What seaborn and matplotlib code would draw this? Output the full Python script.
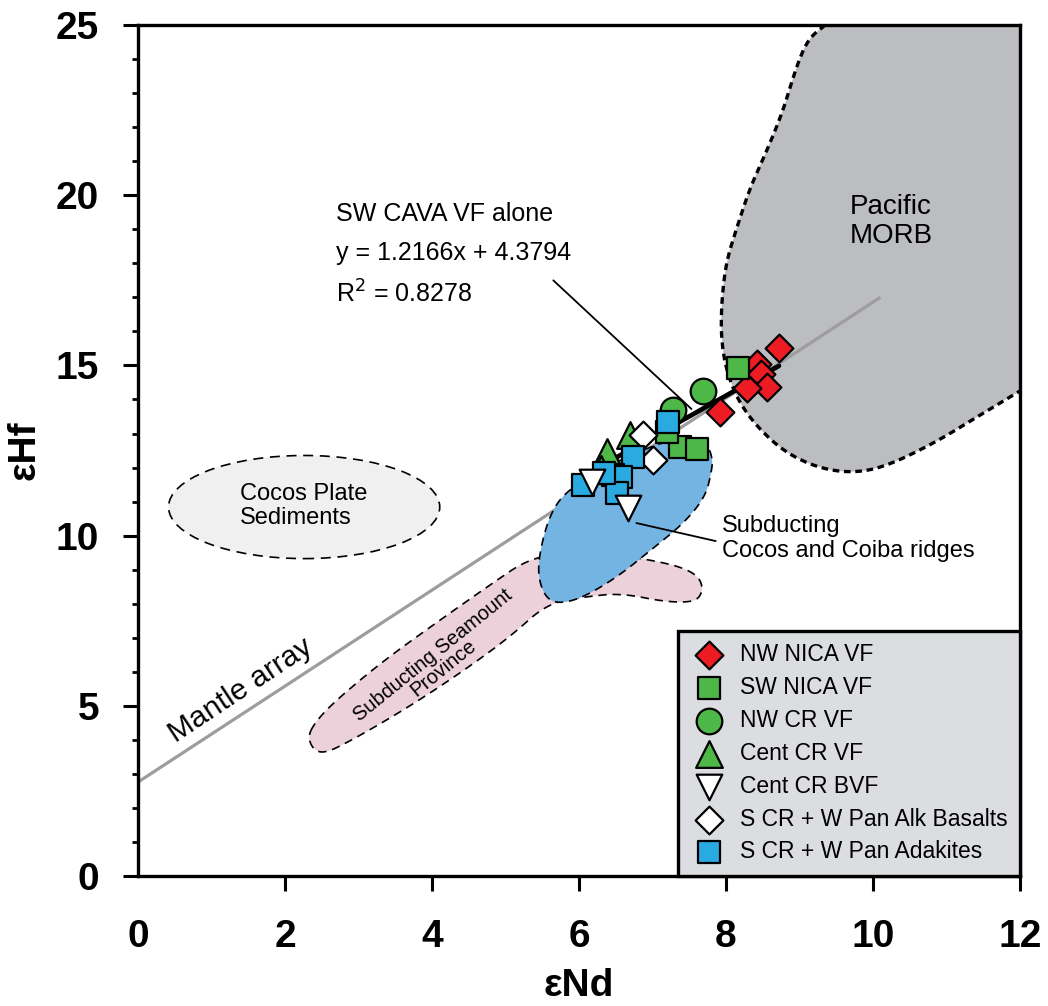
import numpy as np
import pandas as pd
import matplotlib
matplotlib.use("Agg")
import matplotlib.pyplot as plt
import seaborn as sns
from matplotlib.patches import Ellipse, Polygon

# --- sample groups ---
groups = ["NW NICA VF", "SW NICA VF", "NW CR VF", "Cent CR VF",
          "Cent CR BVF", "S CR + W Pan Alk Basalts", "S CR + W Pan Adakites"]

nw_nica_nd = [8.72, 8.42, 8.48, 8.56, 8.29, 7.92]
nw_nica_hf = [15.50, 15.05, 14.74, 14.38, 14.34, 13.62]
sw_nica_nd = [8.16, 7.38, 7.60, 7.20]
sw_nica_hf = [14.92, 12.60, 12.55, 13.05]
nw_cr_nd = [7.69, 7.28]
nw_cr_hf = [14.25, 13.68]
cent_cr_nd = [6.69, 6.38, 6.30]
cent_cr_hf = [12.97, 12.45, 11.95]
cent_bvf_nd = [6.18, 6.66]
cent_bvf_hf = [11.58, 10.80]
alk_nd = [6.87, 7.01]
alk_hf = [12.95, 12.22]
adak_nd = [7.21, 6.73, 6.46, 6.57, 6.05, 6.52, 6.34]
adak_hf = [13.34, 12.31, 11.78, 11.72, 11.49, 11.25, 11.85]

all_nd = [nw_nica_nd, sw_nica_nd, nw_cr_nd, cent_cr_nd, cent_bvf_nd, alk_nd, adak_nd]
all_hf = [nw_nica_hf, sw_nica_hf, nw_cr_hf, cent_cr_hf, cent_bvf_hf, alk_hf, adak_hf]

df = pd.concat([pd.DataFrame({"group": g, "eNd": x, "eHf": y})
                for g, x, y in zip(groups, all_nd, all_hf)], ignore_index=True)

# regression (SW CAVA VF alone) and mantle array
reg_slope, reg_int = 1.2166, 4.3794
reg_x = [6.2, 8.72]
mantle_slope, mantle_int = 1.41, 2.76
mantle_x = [0.0, 10.1]

# --- fields (outline vertices in eNd / eHf) ---
morb_edge = [(9.35, 25.0), (9.12, 24.6), (8.96, 23.8), (8.78, 22.5), (8.56, 21.33),
             (8.33, 20.24), (8.15, 19.07), (8.01, 18.1), (7.95, 17.13), (7.93, 16.13),
             (7.96, 15.36), (8.03, 14.7), (8.17, 13.95), (8.42, 13.2), (8.8, 12.45),
             (9.24, 12.0), (9.69, 11.84), (10.14, 12.0), (10.82, 12.7), (11.5, 13.6),
             (12.0, 14.25)]
ridge_field = [(5.81, 11.28), (6.3, 11.95), (6.8, 12.45), (7.15, 12.75), (7.5, 12.9),
               (7.74, 12.72), (7.82, 12.25), (7.80, 11.85), (7.72, 11.15), (7.43, 10.37),
               (6.98, 9.58), (6.53, 8.8), (6.07, 8.2), (5.75, 8.0), (5.55, 8.15),
               (5.44, 8.8), (5.47, 9.58), (5.60, 10.6)]
seamount_field = [(2.31, 4.08), (2.4, 4.49), (2.65, 5.08), (3.3, 6.26), (4.05, 7.43),
                  (4.82, 8.6), (5.3, 9.3), (5.8, 9.5), (6.3, 9.45), (6.68, 9.37),
                  (6.98, 9.28), (7.39, 9.08), (7.63, 8.8), (7.69, 8.4), (7.59, 8.05),
                  (7.18, 8.05), (6.57, 8.31), (6.07, 8.2), (5.56, 8.0), (5.06, 7.02),
                  (4.31, 5.85), (3.55, 4.79), (2.84, 3.91), (2.54, 3.61), (2.39, 3.7)]
sediment_center = (2.26, 10.84)
sediment_w, sediment_h = 3.69, 3.03


def chaikin(pts, n=4, closed=True):
    p = np.asarray(pts, float)
    for _ in range(n):
        q = np.roll(p, -1, axis=0) if closed else p[1:]
        a = p if closed else p[:-1]
        new = np.empty((2 * len(a), 2))
        new[0::2] = 0.75 * a + 0.25 * q
        new[1::2] = 0.25 * a + 0.75 * q
        if not closed:
            new = np.vstack([p[0], new, p[-1]])
        p = new
    return p


sns.set_theme(style="ticks")
plt.rcParams["font.family"] = ["Liberation Sans", "DejaVu Sans"]
plt.rcParams.update({"text.color": "black", "axes.labelcolor": "black",
                     "xtick.color": "black", "ytick.color": "black",
                     "axes.edgecolor": "black"})

fig = plt.figure(figsize=(10.48, 10.06), dpi=100)
ax = fig.add_axes([0.1317, 0.1292, 0.8416, 0.8459])

# Pacific MORB
edge = chaikin(morb_edge, closed=False)
fill_pts = np.vstack([edge, [(12.2, 14.3), (12.2, 25.2), (9.35, 25.2)]])
ax.add_patch(Polygon(fill_pts, closed=True, facecolor="#bcbdc0", edgecolor="none", zorder=1))
ax.plot(edge[:, 0], edge[:, 1], color="black", lw=2.4, ls=(0, (2.0, 1.4)), zorder=2)

# mantle array
ax.plot(mantle_x, [mantle_int + mantle_slope * v for v in mantle_x],
        color="#9d9d9d", lw=2.3, zorder=2.5, solid_capstyle="butt")

# Cocos plate sediments
ax.add_patch(Ellipse(sediment_center, sediment_w, sediment_h, facecolor="#f0f0f0",
                     edgecolor="black", lw=1.2, ls=(0, (6, 4)), zorder=3))

# seamount province and ridges
ax.add_patch(Polygon(chaikin(seamount_field), closed=True, facecolor="#ecd0da",
                     edgecolor="black", lw=1.2, ls=(0, (5, 3.5)), zorder=3))
ax.add_patch(Polygon(chaikin(ridge_field), closed=True, facecolor="#74b4e3",
                     edgecolor="black", lw=1.2, ls=(0, (5, 3.5)), zorder=3.5))

# regression line
ax.plot(reg_x, [reg_int + reg_slope * v for v in reg_x], color="black", lw=3.4, zorder=4)

# leader lines
ax.annotate("", xy=(7.53, 13.72), xytext=(5.65, 17.5),
            arrowprops=dict(arrowstyle="-", color="black", lw=1.3, shrinkA=0, shrinkB=0), zorder=4)
ax.annotate("", xy=(7.86, 9.84), xytext=(6.78, 10.37),
            arrowprops=dict(arrowstyle="-", color="black", lw=1.3, shrinkA=0, shrinkB=0), zorder=4)

# samples
markers = ["D", "s", "o", "^", "v", "D", "s"]
colors = ["#ed1c24", "#4db748", "#4db748", "#4db748", "white", "white", "#29abe2"]
sizes = [200, 260, 340, 370, 340, 200, 260]
zorders = [5, 5, 5, 5, 7, 6, 6]
for g, mk, col, sz, z in zip(groups, markers, colors, sizes, zorders):
    sns.scatterplot(data=df[df.group == g], x="eNd", y="eHf", marker=mk, color=col,
                    s=sz, edgecolor="black", linewidth=1.6, label=g, zorder=z, ax=ax)

# text labels
ax.text(2.69, 19.45, "SW CAVA VF alone", fontsize=18, ha="left", va="center")
ax.text(2.69, 18.31, "y = 1.2166x + 4.3794", fontsize=18, ha="left", va="center")
ax.text(2.69, 17.11, "R$^2$ = 0.8278", fontsize=18, ha="left", va="center")
ax.text(9.69, 19.24, "Pacific\nMORB", fontsize=20, ha="left", va="center", linespacing=1.15)
ax.text(1.39, 10.87, "Cocos Plate\nSediments", fontsize=17, ha="left", va="center", linespacing=1.15)
ax.text(7.95, 9.92, "Subducting\nCocos and Coiba ridges", fontsize=17, ha="left",
        va="center", linespacing=1.15)
ax.text(1.40, 5.45, "Mantle array", fontsize=21.5, rotation=33.5, ha="center", va="center",
        rotation_mode="anchor")
ax.text(4.08, 6.29, "Subducting Seamount\nProvince", fontsize=14.5, rotation=39, ha="center",
        va="center", rotation_mode="anchor", linespacing=0.85)

# axes
ax.set_xlim(0, 12)
ax.set_ylim(0, 25)
ax.set_xticks(range(0, 13, 2))
ax.set_yticks(range(0, 26, 5))
ax.set_yticks(range(0, 26), minor=True)
ax.tick_params(axis="both", which="major", direction="out", length=11, width=2.2,
               labelsize=28, color="black", labelcolor="black")
ax.tick_params(axis="x", pad=20)
ax.tick_params(axis="y", pad=17)
ax.tick_params(axis="y", which="minor", direction="out", length=4.5, width=2.0)
ax.xaxis.get_major_ticks()[0].tick1line.set_visible(False)
for lab in ax.get_xticklabels() + ax.get_yticklabels():
    lab.set_fontweight("bold")
for side in ["left", "bottom", "top", "right"]:
    ax.spines[side].set_visible(True)
    ax.spines[side].set_color("black")
    ax.spines[side].set_linewidth(2.4)

ax.set_xlabel("εNd", fontsize=28, fontweight="bold")
ax.set_ylabel("εHf", fontsize=28, fontweight="bold")
ax.xaxis.set_label_coords(0.5, -0.108)
ax.yaxis.set_label_coords(-0.108, 0.5)

leg = ax.legend(loc="lower right", bbox_to_anchor=(1.0, 0.0), borderaxespad=0,
                fontsize=16.5, frameon=True, fancybox=False, framealpha=1,
                facecolor="#dcdde0", edgecolor="black", labelspacing=0.43,
                handlelength=1.6, handletextpad=0.55, borderpad=0.55)
leg.get_frame().set_linewidth(2.4)
leg.set_zorder(10)
for t in leg.get_texts():
    t.set_color("black")

fig.savefig("out.png", dpi=100)
